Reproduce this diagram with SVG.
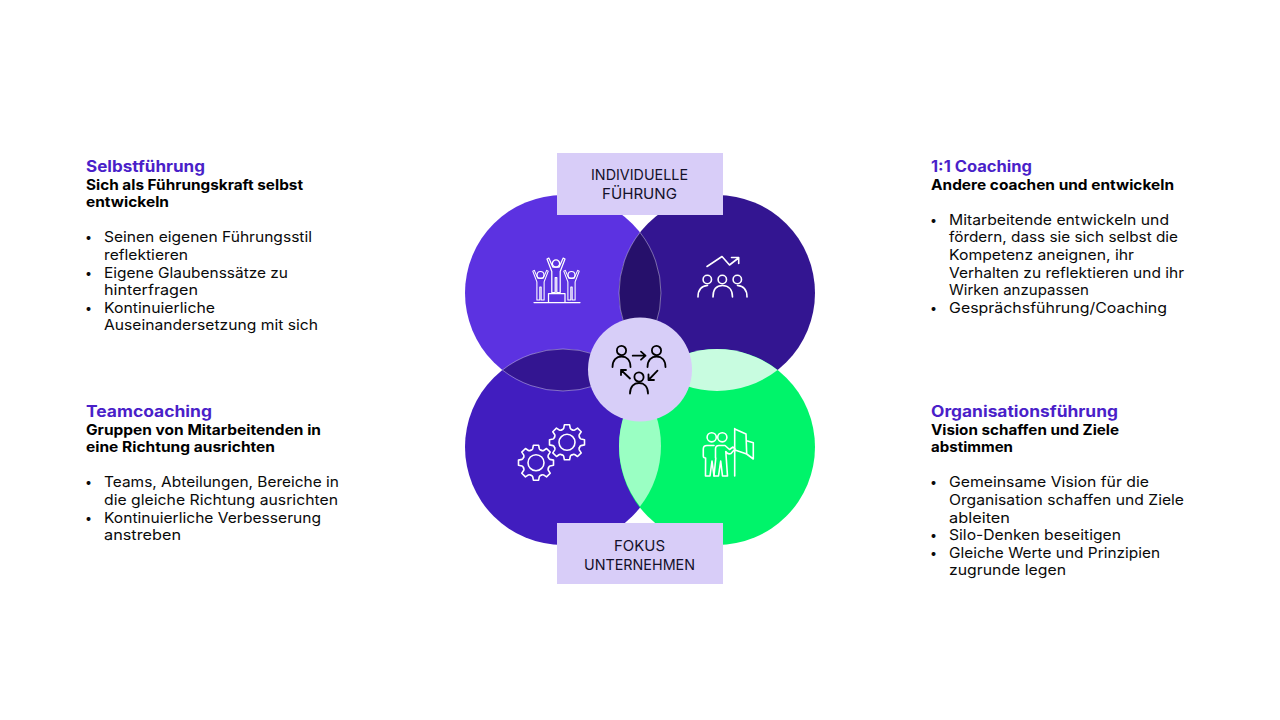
<svg xmlns="http://www.w3.org/2000/svg" xmlns:xlink="http://www.w3.org/1999/xlink" width="1280" height="720" viewBox="0 0 1280 720">
<style>
text{font-family:Inter,"Open Sans","Liberation Sans",sans-serif}
.h{font-size:15.5px;font-weight:700;fill:#4a1fc9}
.s{font-size:14.2px;font-weight:700;fill:#000}
.b{font-size:14.5px;font-weight:400;fill:#0a0a0a}
.d{font-size:12.5px;font-weight:400;fill:#0a0a0a}
.l{font-size:15px;font-weight:400;fill:#14112a}
.w{fill:none;stroke:#fff;stroke-width:1.6;stroke-linecap:round;stroke-linejoin:round}
.t{stroke-width:1.25}
.k{fill:none;stroke:#000;stroke-width:1.8;stroke-linecap:round;stroke-linejoin:round}
.e{stroke:#fff;stroke-opacity:.55;stroke-width:.7}
</style>
<defs>
<path id="fig" d="M-9 -4.5L-7.2 -5.4L-3.2 3.6L3.2 3.6L7.2 -5.4L9 -4.5L4.2 8L4.2 29L.8 29L.8 14L-.8 14L-.8 29L-4.2 29L-4.2 8Z"/>
<path id="tooth" d="M-5.17 -12.47Q-3.6 -13 -3.3 -14L-2.6 -17.5L2.6 -17.5L3.3 -14Q3.6 -13 5.17 -12.47"/>
<g id="gear">
<circle r="8"/>
<use xlink:href="#tooth"/><use xlink:href="#tooth" transform="rotate(45)"/><use xlink:href="#tooth" transform="rotate(90)"/><use xlink:href="#tooth" transform="rotate(135)"/><use xlink:href="#tooth" transform="rotate(180)"/><use xlink:href="#tooth" transform="rotate(225)"/><use xlink:href="#tooth" transform="rotate(270)"/><use xlink:href="#tooth" transform="rotate(315)"/>
</g>
<g id="per">
<circle cy="-11.5" r="4.6"/>
<path d="M-9 5C-9 -2 -5 -5.5 0 -5.5C5 -5.5 9 -2 9 5"/>
</g>
</defs>
<rect width="1280" height="720" fill="#fff"/>

<g id="circle-selbstfuehrung"><circle cx="563" cy="293" r="98" fill="#5c32e1"/></g>
<g id="circle-coaching"><circle cx="717" cy="293" r="98" fill="#331591"/></g>
<g id="circle-teamcoaching"><circle cx="563" cy="447" r="98" fill="#411dbf"/></g>
<g id="circle-organisation"><circle cx="717" cy="447" r="98" fill="#00f46a"/></g>
<g id="overlaps">
<path class="e" d="M640 232.4A98 98 0 0 1 640 353.6A98 98 0 0 1 640 232.4Z" fill="#26106b"/>
<path class="e" d="M502.4 370A98 98 0 0 1 623.6 370A98 98 0 0 1 502.4 370Z" fill="#331591"/>
<path d="M656.4 370A98 98 0 0 1 777.6 370A98 98 0 0 1 656.4 370Z" fill="#c8fce0"/>
<path d="M640 385.4A98 98 0 0 1 640 506.6A98 98 0 0 1 640 385.4Z" fill="#9affc3"/>
</g>

<g id="icon-podium" class="w t">
<g transform="translate(556 263.5)"><circle r="3.6"/><use xlink:href="#fig"/></g>
<g transform="translate(540.5 275) scale(.86)"><circle r="4"/><use xlink:href="#fig"/></g>
<g transform="translate(571.5 275) scale(.86)"><circle r="4"/><use xlink:href="#fig"/></g>
<path d="M534 302.5H580M548.5 302V293.5H565V302"/>
</g>
<g id="icon-growth" class="w">
<path d="M707 266.5L722 256.5L729.5 265L738.5 258M731.5 257.5H738.7V263.5"/>
<circle cx="707.3" cy="279.5" r="4.2"/><circle cx="722.3" cy="279.5" r="4.2"/><circle cx="737.3" cy="279.5" r="4.2"/>
<path d="M698 297C698 290 701 286 707.5 285.5M713 297C713 289 717 285.5 722.5 285.5C728 285.5 732.5 289 732.5 297M747 297C747 290 744 286 737.5 285.5"/>
</g>
<g id="icon-gears" class="w">
<use xlink:href="#gear" transform="translate(536 462.7)"/>
<use xlink:href="#gear" transform="translate(567 442.3)"/>
</g>
<g id="icon-flag" class="w">
<circle cx="711.7" cy="437.3" r="4.6"/><circle cx="722.3" cy="437.3" r="4.6"/>
<path d="M734.7 428.5V476M734.7 429L746 434L746.7 454L735 450M746.7 440.7L753.3 442.7V459L746.7 454"/>
<path d="M714 445.5H707Q703.3 445.5 703.3 449V456Q703.3 458 705.6 458L705.5 476H710L712 461L714 476"/>
<path d="M715.5 458V449Q715.5 445.5 719 445.5H725L729.5 449.5L733 447L735 449L731 453.5Q729 454.5 727 453L725.8 451.5L727.5 476H722.5L720.7 461L718.5 476H714L715.8 458Z"/>
</g>

<g id="center">
<circle cx="640" cy="369.5" r="52" fill="#d7cef8"/>
<g class="k">
<use xlink:href="#per" transform="translate(621.5 362)"/>
<use xlink:href="#per" transform="translate(656.5 362)"/>
<use xlink:href="#per" transform="translate(639 388.5)"/>
<path d="M632.7 355.7H645.5M641 351.7L645.5 355.7L641 359.7"/>
<path d="M630 378.5L621 370M621 375V370H626"/>
<path d="M657.5 370.7L648.5 380M648.5 374.5V380H654"/>
</g>
</g>

<g id="label-top">
<rect x="557" y="153" width="166" height="62" fill="#d8cdf8"/>
<text class="l" x="591" y="180" textLength="97" lengthAdjust="spacingAndGlyphs">INDIVIDUELLE</text>
<text class="l" x="602" y="199" textLength="75" lengthAdjust="spacingAndGlyphs">FÜHRUNG</text>
</g>
<g id="label-bottom">
<rect x="557" y="523" width="166" height="61" fill="#d8cdf8"/>
<text class="l" x="614" y="551" textLength="51" lengthAdjust="spacingAndGlyphs">FOKUS</text>
<text class="l" x="584" y="570" textLength="111" lengthAdjust="spacingAndGlyphs">UNTERNEHMEN</text>
</g>

<g id="text-selbstfuehrung">
<text class="h" x="86" y="172" textLength="119" lengthAdjust="spacingAndGlyphs">Selbstführung</text>
<text class="s" x="86" y="190" textLength="217" lengthAdjust="spacingAndGlyphs">Sich als Führungskraft selbst</text>
<text class="s" x="86" y="207" textLength="83" lengthAdjust="spacingAndGlyphs">entwickeln</text>
<text class="d" x="85" y="241.5">•</text>
<text class="b" x="104" y="242" textLength="208" lengthAdjust="spacingAndGlyphs">Seinen eigenen Führungsstil</text>
<text class="b" x="104" y="260" textLength="84" lengthAdjust="spacingAndGlyphs">reflektieren</text>
<text class="d" x="85" y="277.5">•</text>
<text class="b" x="104" y="278" textLength="184" lengthAdjust="spacingAndGlyphs">Eigene Glaubenssätze zu</text>
<text class="b" x="104" y="295" textLength="94" lengthAdjust="spacingAndGlyphs">hinterfragen</text>
<text class="d" x="85" y="312.5">•</text>
<text class="b" x="104" y="313" textLength="111" lengthAdjust="spacingAndGlyphs">Kontinuierliche</text>
<text class="b" x="104" y="330" textLength="214" lengthAdjust="spacingAndGlyphs">Auseinandersetzung mit sich</text>
</g>
<g id="text-teamcoaching">
<text class="h" x="86" y="417" textLength="126" lengthAdjust="spacingAndGlyphs">Teamcoaching</text>
<text class="s" x="86" y="435" textLength="235" lengthAdjust="spacingAndGlyphs">Gruppen von Mitarbeitenden in</text>
<text class="s" x="86" y="452" textLength="189" lengthAdjust="spacingAndGlyphs">eine Richtung ausrichten</text>
<text class="d" x="85" y="486.5">•</text>
<text class="b" x="104" y="487" textLength="235" lengthAdjust="spacingAndGlyphs">Teams, Abteilungen, Bereiche in</text>
<text class="b" x="104" y="505" textLength="234" lengthAdjust="spacingAndGlyphs">die gleiche Richtung ausrichten</text>
<text class="d" x="85" y="522.5">•</text>
<text class="b" x="104" y="523" textLength="217" lengthAdjust="spacingAndGlyphs">Kontinuierliche Verbesserung</text>
<text class="b" x="104" y="540" textLength="77" lengthAdjust="spacingAndGlyphs">anstreben</text>
</g>
<g id="text-coaching">
<text class="h" x="931" y="172" textLength="101" lengthAdjust="spacingAndGlyphs">1:1 Coaching</text>
<text class="s" x="931" y="190" textLength="243" lengthAdjust="spacingAndGlyphs">Andere coachen und entwickeln</text>
<text class="d" x="930" y="224.5">•</text>
<text class="b" x="949" y="225" textLength="220" lengthAdjust="spacingAndGlyphs">Mitarbeitende entwickeln und</text>
<text class="b" x="949" y="242" textLength="229" lengthAdjust="spacingAndGlyphs">fördern, dass sie sich selbst die</text>
<text class="b" x="949" y="260" textLength="185" lengthAdjust="spacingAndGlyphs">Kompetenz aneignen, ihr</text>
<text class="b" x="949" y="278" textLength="235" lengthAdjust="spacingAndGlyphs">Verhalten zu reflektieren und ihr</text>
<text class="b" x="949" y="295" textLength="140" lengthAdjust="spacingAndGlyphs">Wirken anzupassen</text>
<text class="d" x="930" y="312.5">•</text>
<text class="b" x="949" y="313" textLength="218" lengthAdjust="spacingAndGlyphs">Gesprächsführung/Coaching</text>
</g>
<g id="text-organisation">
<text class="h" x="931" y="417" textLength="187" lengthAdjust="spacingAndGlyphs">Organisationsführung</text>
<text class="s" x="931" y="435" textLength="188" lengthAdjust="spacingAndGlyphs">Vision schaffen und Ziele</text>
<text class="s" x="931" y="452" textLength="82" lengthAdjust="spacingAndGlyphs">abstimmen</text>
<text class="d" x="930" y="486.5">•</text>
<text class="b" x="949" y="487" textLength="200" lengthAdjust="spacingAndGlyphs">Gemeinsame Vision für die</text>
<text class="b" x="949" y="505" textLength="235" lengthAdjust="spacingAndGlyphs">Organisation schaffen und Ziele</text>
<text class="b" x="949" y="523" textLength="61" lengthAdjust="spacingAndGlyphs">ableiten</text>
<text class="d" x="930" y="539.5">•</text>
<text class="b" x="949" y="540" textLength="172" lengthAdjust="spacingAndGlyphs">Silo-Denken beseitigen</text>
<text class="d" x="930" y="557.5">•</text>
<text class="b" x="949" y="558" textLength="211" lengthAdjust="spacingAndGlyphs">Gleiche Werte und Prinzipien</text>
<text class="b" x="949" y="575" textLength="117" lengthAdjust="spacingAndGlyphs">zugrunde legen</text>
</g>
</svg>
